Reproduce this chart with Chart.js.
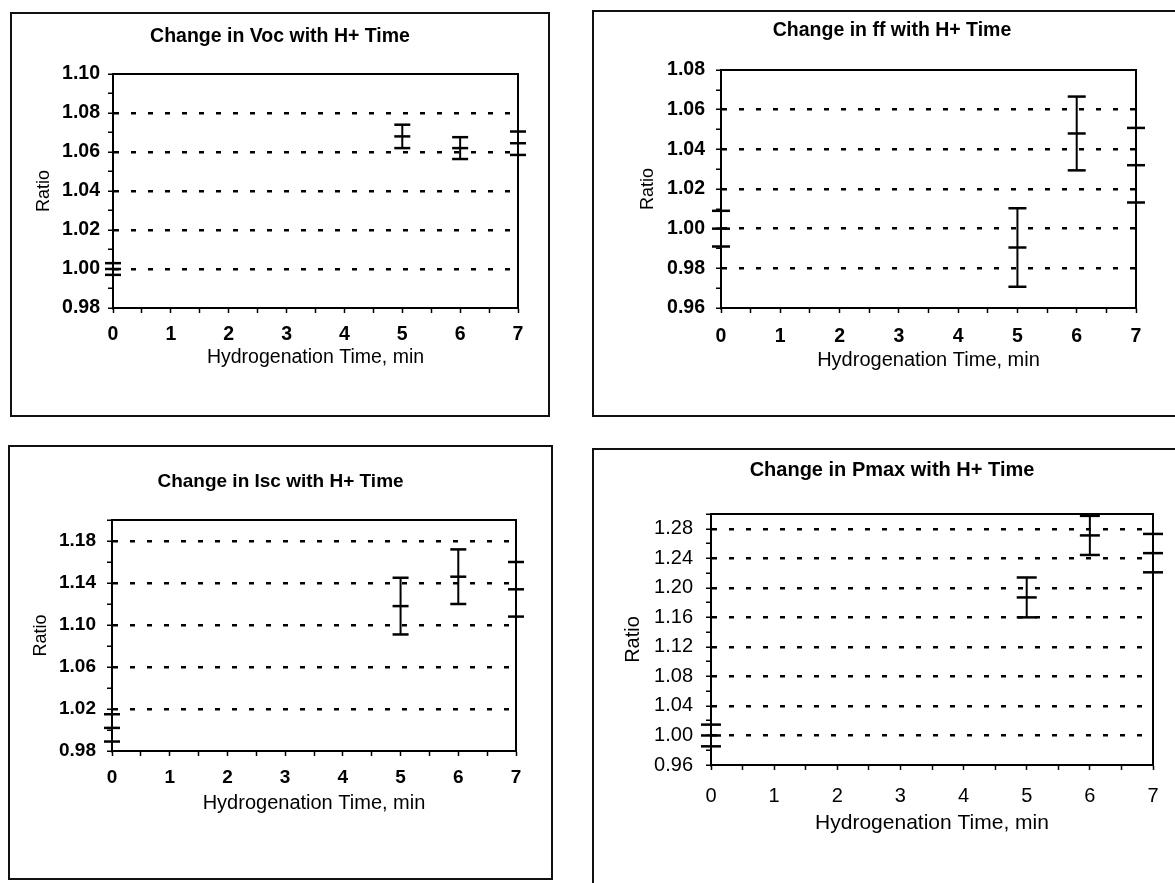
<!DOCTYPE html>
<html>
<head>
<meta charset="utf-8">
<script src="https://cdn.jsdelivr.net/npm/chart.js@4.4.1/dist/chart.umd.min.js"></script>
<style>
html,body{margin:0;padding:0;background:#fff;overflow:hidden;width:1175px;height:883px;}
.panel{position:absolute;border:2px solid #111;box-sizing:border-box;}
.panel canvas{display:block;}
</style>
</head>
<body>
<div class="panel" style="left:10px;top:12px;width:540px;height:405px"><canvas id="c1" width="536" height="401"></canvas></div>
<div class="panel" style="left:592px;top:10px;width:600px;height:407px"><canvas id="c2" width="596" height="403"></canvas></div>
<div class="panel" style="left:8px;top:445px;width:545px;height:435px"><canvas id="c3" width="541" height="431"></canvas></div>
<div class="panel" style="left:592px;top:448px;width:600px;height:440px"><canvas id="c4" width="596" height="436"></canvas></div>
<script>
// hydrogenation times (min) and x tick labels
var times = [0, 5, 6, 7];
var xTicks = [0, 1, 2, 3, 4, 5, 6, 7];

// Voc ratio
var vocMean = [1.000, 1.068, 1.062, 1.0645];
var vocErr  = [0.003, 0.006, 0.0056, 0.006];
var vocTicks = [0.98, 1.00, 1.02, 1.04, 1.06, 1.08, 1.10];

// fill factor ratio
var ffMean = [1.000, 0.9905, 1.048, 1.032];
var ffErr  = [0.009, 0.0198, 0.0186, 0.0188];
var ffTicks = [0.96, 0.98, 1.00, 1.02, 1.04, 1.06, 1.08];

// Isc ratio
var iscMean = [1.002, 1.118, 1.146, 1.134];
var iscErr  = [0.013, 0.027, 0.026, 0.026];
var iscTicks = [0.98, 1.02, 1.06, 1.10, 1.14, 1.18];
var iscMax = 1.20;

// Pmax ratio
var pmaxMean = [1.000, 1.187, 1.271, 1.247];
var pmaxErr  = [0.0147, 0.027, 0.0265, 0.026];
var pmaxTicks = [0.96, 1.00, 1.04, 1.08, 1.12, 1.16, 1.20, 1.24, 1.28];
var pmaxMax = 1.30;

Chart.defaults.font.family = "'Liberation Sans', Arial, Helvetica, sans-serif";
Chart.defaults.color = '#000';

function halfSteps(ticks, max){
    var step = ticks[1] - ticks[0], out = [];
    for(var k = 0; ticks[0] + k*step/2 <= max + 1e-9; k++){
        out.push(Math.round((ticks[0] + k*step/2)*10000)/10000);
    }
    return out;
}
function inList(v, list){
    return list.some(function(t){ return Math.abs(t - v) < 1e-6; });
}

function makePanel(id, o){
    var yMin = o.ticks[0], yMax = o.yMax;
    var yAll = halfSteps(o.ticks, yMax);
    var xAll = halfSteps(xTicks, xTicks[xTicks.length-1]);
    var hi = o.mean.map(function(m,i){ return m + o.err[i]; });
    var lo = o.mean.map(function(m,i){ return m - o.err[i]; });
    var pts = function(arr){ return times.map(function(t,i){ return {x:t, y:arr[i]}; }); };
    var whisk = [];
    times.forEach(function(t,i){ whisk.push({x:t, y:lo[i]}, {x:t, y:hi[i]}, {x:t, y:null}); });

    new Chart(document.getElementById(id), {
        type: 'scatter',
        data: { datasets: [
            { type:'line', data: whisk, borderColor:'#000', borderWidth:2, pointRadius:0, spanGaps:false, clip:false, xAxisID:'x', yAxisID:'y' },
            { type:'scatter', data: pts(o.mean).concat(pts(hi)).concat(pts(lo)), pointStyle:'line', pointRadius:o.capR, pointBorderWidth:2.5,
              borderColor:'#000', pointBorderColor:'#000', clip:false, xAxisID:'x', yAxisID:'y' }
        ]},
        options: {
            responsive:false, animation:false, devicePixelRatio:1, events:[],
            layout:{padding:0},
            plugins:{
                legend:{display:false}, tooltip:{enabled:false},
                title:{display:true, text:o.title, color:'#000', font:{size:o.titleSize, weight:'bold'}, padding:{top:o.titleTop, bottom:o.titleBottom}}
            },
            scales:{
                x:{ type:'linear', position:'bottom', min:0, max:7,
                    afterBuildTicks:function(s){ s.ticks = xAll.map(function(v){ return {value:v}; }); },
                    afterFit:function(s){ s.height = o.bottomH; },
                    ticks:{ autoSkip:false, maxRotation:0, padding:o.xPad, color:'#000', font:{size:o.tickSize, weight:o.tickWeight},
                        callback:function(v){ return inList(v, xTicks) ? String(v) : ''; } },
                    grid:{ drawOnChartArea:false, tickLength:5, tickColor:'#000', tickWidth:1.5 },
                    border:{ color:'#000', width:2 },
                    title:{ display:true, text:'Hydrogenation Time, min', color:'#000', font:{size:o.xTitleSize}, padding:{top:0, bottom:o.xTitlePad} }
                },
                y:{ type:'linear', position:'left', min:yMin, max:yMax,
                    afterBuildTicks:function(s){ s.ticks = yAll.map(function(v){ return {value:v}; }); },
                    afterFit:function(s){ s.width = o.yW; },
                    ticks:{ autoSkip:false, padding:o.yPad, color:'#000', font:{size:o.tickSize, weight:o.tickWeight},
                        callback:function(v){ return inList(v, o.ticks) ? v.toFixed(2) : ''; } },
                    grid:{ lineWidth:2.5, tickLength:5, tickColor:'#000', tickWidth:1.5,
                        color:function(c){
                            var v = c.tick ? c.tick.value : null;
                            return (v !== null && inList(v, o.ticks) && v > yMin + 1e-6 && v < yMax - 1e-6) ? '#000' : 'rgba(0,0,0,0)';
                        } },
                    border:{ color:'#000', width:2, dash:[5,12] },
                    title:{ display:true, text:'Ratio', color:'#000', font:{size:o.yTitleSize}, padding:{top:o.yTitlePad, bottom:0} }
                },
                y2:{ type:'linear', position:'right', min:yMin, max:yMax,
                    afterFit:function(s){ s.width = o.rightW; },
                    ticks:{display:false}, grid:{display:false}, border:{display:true, color:'#000', width:2} },
                x2:{ type:'linear', position:'top', min:0, max:7,
                    afterFit:function(s){ s.height = 0; },
                    ticks:{display:false}, grid:{display:false}, border:{display:true, color:'#000', width:2} }
            }
        }
    });
}

makePanel('c1', { title:'Change in Voc with H+ Time', titleSize:19.5, titleTop:10.5, titleBottom:26.1,
    mean:vocMean, err:vocErr, ticks:vocTicks, yMax:1.10, capR:8,
    yW:101, rightW:30, bottomH:107, tickSize:19.5, tickWeight:'bold', xPad:10.3, yPad:8,
    yTitleSize:18, yTitlePad:21.7, xTitleSize:19.5, xTitlePad:45.3 });

makePanel('c2', { title:'Change in ff with H+ Time', titleSize:19.5, titleTop:7.3, titleBottom:27.3,
    mean:ffMean, err:ffErr, ticks:ffTicks, yMax:1.08, capR:9,
    yW:127, rightW:54, bottomH:107, tickSize:19.5, tickWeight:'bold', xPad:12.3, yPad:11,
    yTitleSize:18, yTitlePad:43.2, xTitleSize:20, xTitlePad:43 });

makePanel('c3', { title:'Change in Isc with H+ Time', titleSize:19, titleTop:23.6, titleBottom:26.6,
    mean:iscMean, err:iscErr, ticks:iscTicks, yMax:iscMax, capR:8,
    yW:102, rightW:35, bottomH:127, tickSize:19, tickWeight:'bold', xPad:10.6, yPad:11,
    yTitleSize:18, yTitlePad:20.7, xTitleSize:20, xTitlePad:63 });

makePanel('c4', { title:'Change in Pmax with H+ Time', titleSize:20, titleTop:8, titleBottom:32,
    mean:pmaxMean, err:pmaxErr, ticks:pmaxTicks, yMax:pmaxMax, capR:10,
    yW:117, rightW:37, bottomH:121, tickSize:20, tickWeight:'normal', xPad:14.7, yPad:13,
    yTitleSize:20, yTitlePad:27, xTitleSize:21, xTitlePad:50.4 });
</script>
</body>
</html>
